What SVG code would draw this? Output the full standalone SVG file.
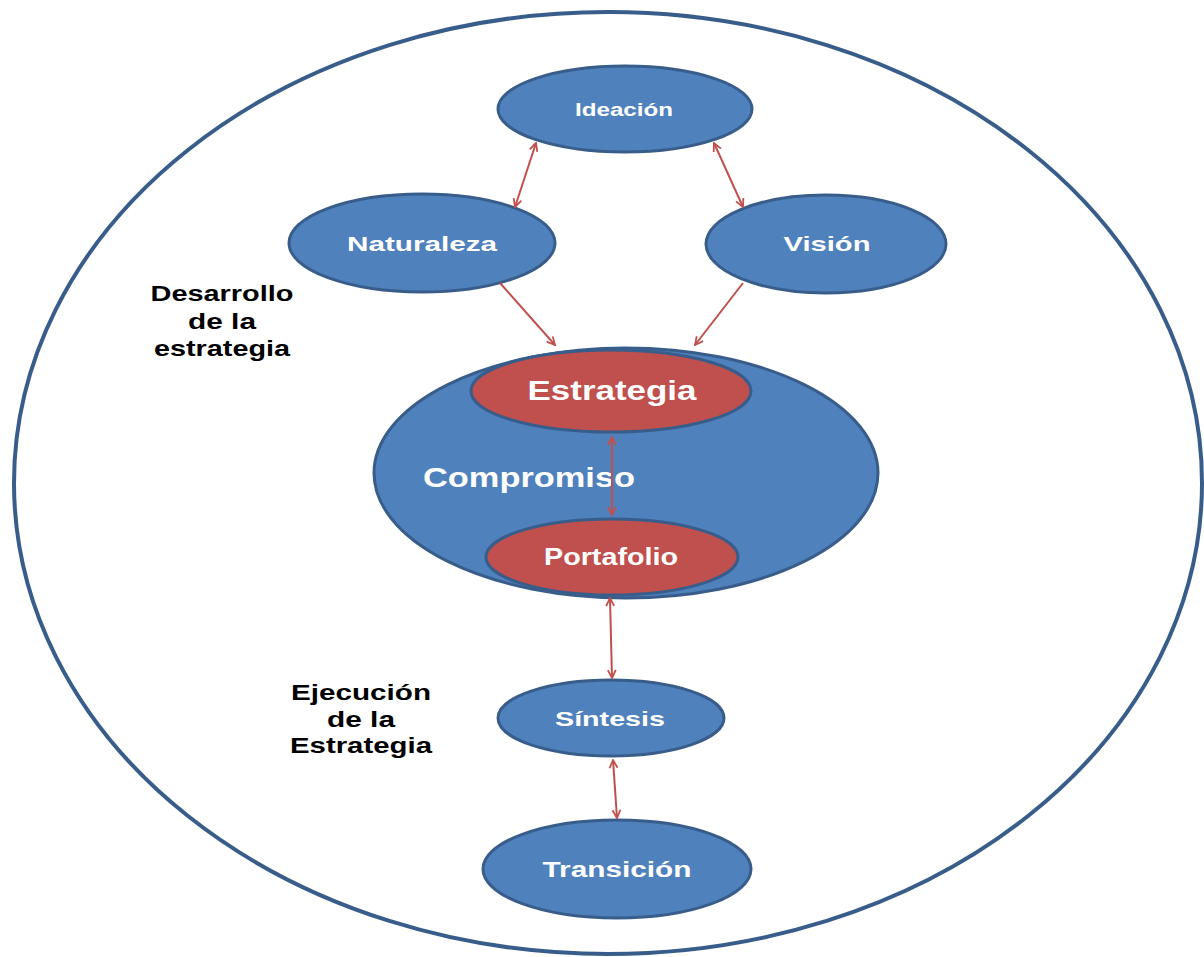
<svg xmlns="http://www.w3.org/2000/svg" width="1204" height="957" viewBox="0 0 1204 957">
<style>
.blue{fill:#4f81bd;stroke:#385d8a;stroke-width:3}
.red{fill:#c0504d;stroke:#385d8a;stroke-width:3}
.wt{fill:#ffffff;font-family:"Liberation Sans",Arial,sans-serif;font-weight:bold;text-anchor:middle}
.bt{fill:#000000;font-family:"Liberation Sans",Arial,sans-serif;font-weight:bold;font-size:22px;text-anchor:middle}
.ar{stroke:#c0504d;stroke-width:2;fill:none}
</style>
<defs>
<marker id="ah" viewBox="0 0 10 10" refX="9" refY="5" markerWidth="10" markerHeight="10" markerUnits="userSpaceOnUse" orient="auto-start-reverse">
<path d="M1,1 L9,5 L1,9" fill="none" stroke="#c0504d" stroke-width="1.8"/>
</marker>
</defs>
<rect width="1204" height="957" fill="#ffffff"/>
<ellipse id="outer" cx="608" cy="483" rx="594" ry="471" fill="none" stroke="#385d8a" stroke-width="4"/>
<g id="label-desarrollo">
<text class="bt" x="222" y="301" textLength="143" lengthAdjust="spacingAndGlyphs">Desarrollo</text>
<text class="bt" x="222" y="329" textLength="68" lengthAdjust="spacingAndGlyphs">de la</text>
<text class="bt" x="222" y="356" textLength="136" lengthAdjust="spacingAndGlyphs">estrategia</text>
</g>
<g id="label-ejecucion">
<text class="bt" x="361" y="700" textLength="140" lengthAdjust="spacingAndGlyphs">Ejecución</text>
<text class="bt" x="361" y="727" textLength="68" lengthAdjust="spacingAndGlyphs">de la</text>
<text class="bt" x="361" y="753" textLength="142" lengthAdjust="spacingAndGlyphs">Estrategia</text>
</g>
<g id="ideacion">
<ellipse class="blue" cx="625" cy="109" rx="127" ry="43"/>
<text class="wt" x="624" y="116" font-size="18" textLength="98" lengthAdjust="spacingAndGlyphs">Ideación</text>
</g>
<g id="naturaleza">
<ellipse class="blue" cx="422" cy="243" rx="133" ry="49"/>
<text class="wt" x="422" y="251" font-size="21" textLength="150" lengthAdjust="spacingAndGlyphs">Naturaleza</text>
</g>
<g id="vision">
<ellipse class="blue" cx="826" cy="244" rx="120" ry="49"/>
<text class="wt" x="827" y="251" font-size="21" textLength="87" lengthAdjust="spacingAndGlyphs">Visión</text>
</g>
<g id="compromiso">
<ellipse class="blue" cx="626" cy="473" rx="252" ry="125"/>
<text class="wt" x="529" y="487" font-size="27" textLength="212" lengthAdjust="spacingAndGlyphs">Compromiso</text>
</g>
<g id="estrategia">
<ellipse class="red" cx="611" cy="391" rx="140" ry="41"/>
<text class="wt" x="612" y="400" font-size="28" textLength="169" lengthAdjust="spacingAndGlyphs">Estrategia</text>
</g>
<g id="portafolio">
<ellipse class="red" cx="612" cy="557" rx="126" ry="38"/>
<text class="wt" x="611" y="565" font-size="23" textLength="134" lengthAdjust="spacingAndGlyphs">Portafolio</text>
</g>
<g id="sintesis">
<ellipse class="blue" cx="611" cy="718" rx="113" ry="38"/>
<text class="wt" x="610" y="726" font-size="21" textLength="110" lengthAdjust="spacingAndGlyphs">Síntesis</text>
</g>
<g id="transicion">
<ellipse class="blue" cx="617" cy="869" rx="134" ry="49"/>
<text class="wt" x="617" y="877" font-size="22" textLength="149" lengthAdjust="spacingAndGlyphs">Transición</text>
</g>
<g id="connectors">
<line class="ar" x1="536" y1="143" x2="515" y2="207" marker-start="url(#ah)" marker-end="url(#ah)"/>
<line class="ar" x1="714" y1="143" x2="743" y2="207" marker-start="url(#ah)" marker-end="url(#ah)"/>
<line class="ar" x1="500" y1="283" x2="555" y2="345" marker-end="url(#ah)"/>
<line class="ar" x1="743" y1="283" x2="695" y2="345" marker-end="url(#ah)"/>
<line class="ar" x1="612" y1="437" x2="612" y2="515" stroke-width="1.3" marker-start="url(#ah)" marker-end="url(#ah)"/>
<line class="ar" x1="610" y1="598" x2="612" y2="678" marker-start="url(#ah)" marker-end="url(#ah)"/>
<line class="ar" x1="613" y1="760" x2="617" y2="818" marker-start="url(#ah)" marker-end="url(#ah)"/>
</g>
</svg>
